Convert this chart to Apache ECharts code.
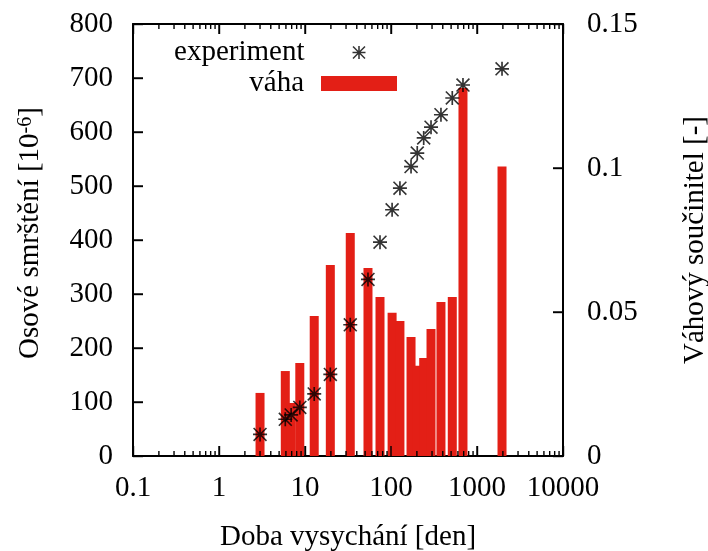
<!DOCTYPE html>
<html>
<head>
<meta charset="utf-8">
<script src="https://cdn.jsdelivr.net/npm/echarts@6/dist/echarts.min.js"></script>
<style>html,body{margin:0;padding:0;background:#fff}#c{width:708px;height:551px}</style>
</head>
<body>
<div id="c"></div>
<script>
// Drying time [days] (shared by points and bars)
const days = [3.0, 5.9, 6.9, 8.7, 12.8, 19.7, 33.6, 54, 74.5, 103, 127, 171, 202, 240, 292, 381, 516, 687, 1954];
// Axial shrinkage [1e-6]
const strain = [40, 68, 76, 90, 115, 151, 243, 327, 396, 456, 496, 536, 561, 589, 609, 632, 663, 687, 717];
// Weight factor [-]
const weights = [0.0219, 0.0295, 0.0184, 0.0323, 0.0486, 0.0663, 0.0774, 0.0653, 0.0552, 0.0497, 0.0469, 0.0413, 0.0313, 0.0340, 0.0441, 0.0535, 0.0552, 0.1278, 0.1005];

const xTickValues = [0.1, 1, 10, 100, 1000, 10000];
const xTickLabels = ['0.1', '1', '10', '100', '1000', '10000'];
const yTickValues = [0, 100, 200, 300, 400, 500, 600, 700, 800];
const yTickLabels = ['0', '100', '200', '300', '400', '500', '600', '700', '800'];
const y2TickValues = [0, 0.05, 0.1, 0.15];
const y2TickLabels = ['0', '0.05', '0.1', '0.15'];
const xMinorTicks = [0.2,0.3,0.4,0.5,0.6,0.7,0.8,0.9, 2,3,4,5,6,7,8,9, 20,30,40,50,60,70,80,90, 200,300,400,500,600,700,800,900, 2000,3000,4000,5000,6000,7000,8000,9000];

const FONT = "'Liberation Serif', 'Times New Roman', serif";
const RED = '#e31f16';
const FS = 29;
const STAR = 'path://M44 0L56 0L56 100L44 100Z M0 44L100 44L100 56L0 56Z M0 8L8 0L100 92L92 100Z M92 0L100 8L8 100L0 92Z';
const TICK_W = 1.4;

const chart = echarts.init(document.getElementById('c'), null, {renderer: 'canvas'});

function axisLine() { return {show: true, onZero: false, lineStyle: {color: '#000', width: 2}}; }
function tick() { return {show: true, inside: true, length: 10, lineStyle: {color: '#000', width: TICK_W}}; }
function lbl(extra) { return Object.assign({show: true, color: '#000', fontFamily: FONT, fontSize: FS}, extra); }
function seg(x1, y1, x2, y2) { return {type: 'line', shape: {x1: x1, y1: y1, x2: x2, y2: y2}, style: {stroke: '#000', lineWidth: TICK_W}}; }

// tick-mark series: marks at both frame edges, placed through the axis scales
function xTickSeries(name, values, len) {
  return {
    name: name, type: 'custom', xAxisIndex: 0, yAxisIndex: 0, z: 5, silent: true, clip: false,
    data: values.map(v => [v, 0]),
    renderItem: function (params, api) {
      const cs = params.coordSys;
      const x = api.coord([api.value(0), 0])[0];
      const yb = cs.y + cs.height, yt = cs.y;
      return {type: 'group', children: [seg(x, yb, x, yb - len), seg(x, yt, x, yt + len)]};
    }
  };
}
function yTickSeries(name, values, axisIdx, onLeft) {
  return {
    name: name, type: 'custom', xAxisIndex: 0, yAxisIndex: axisIdx, z: 5, silent: true, clip: false,
    data: values.map(v => [1, v]),
    renderItem: function (params, api) {
      const cs = params.coordSys;
      const y = api.coord([1, api.value(1)])[1];
      return onLeft ? seg(cs.x, y, cs.x + 10, y) : seg(cs.x + cs.width, y, cs.x + cs.width - 10, y);
    }
  };
}

chart.setOption({
  animation: false,
  backgroundColor: '#fff',
  grid: {left: 133, right: 145, top: 24, bottom: 95, containLabel: false, outerBoundsMode: 'none'},
  legend: [
    {
      data: [{name: 'experiment'}],
      orient: 'vertical', align: 'right', right: 342.5, top: 38, padding: 0,
      itemWidth: 13, itemHeight: 13, symbolKeepAspect: true,
      textStyle: {color: '#000', fontFamily: FONT, fontSize: FS, padding: [0, 43, 0, 0]},
      selectedMode: false
    },
    {
      data: [{name: 'váha', icon: 'rect'}],
      orient: 'vertical', align: 'right', right: 311, top: 69, padding: 0,
      itemWidth: 76, itemHeight: 15,
      textStyle: {color: '#000', fontFamily: FONT, fontSize: FS, padding: [0, 12, 0, 0]},
      selectedMode: false
    }
  ],
  xAxis: [
    {
      type: 'log', logBase: 10, min: 0.1, max: 10000, position: 'bottom',
      axisLine: axisLine(), axisTick: tick(), splitLine: {show: false},
      axisLabel: lbl({margin: 18, formatter: (v, i) => xTickLabels[i]}),
      name: 'Doba vysychání [den]', nameLocation: 'middle', nameGap: 67,
      nameTextStyle: {color: '#000', fontFamily: FONT, fontSize: FS}
    },
    {
      type: 'log', logBase: 10, min: 0.1, max: 10000, position: 'top',
      axisLine: axisLine(), axisTick: tick(), splitLine: {show: false},
      axisLabel: {show: false}
    }
  ],
  yAxis: [
    {
      type: 'value', min: 0, max: 800, interval: 100, position: 'left',
      axisLine: axisLine(), axisTick: tick(), splitLine: {show: false},
      axisLabel: lbl({margin: 20, formatter: (v, i) => yTickLabels[i]}),
      name: 'Osové smrštění [10{sup|-6}]', nameLocation: 'middle', nameRotate: 90, nameGap: 88,
      nameTextStyle: {color: '#000', fontFamily: FONT, fontSize: FS, padding: [0, 0, 0, 14],
        rich: {sup: {fontFamily: FONT, fontSize: 20, color: '#000', verticalAlign: 'top'}}}
    },
    {
      type: 'value', min: 0, max: 0.15, interval: 0.05, position: 'right',
      axisLine: axisLine(), axisTick: tick(), splitLine: {show: false},
      axisLabel: lbl({margin: 24, formatter: (v, i) => y2TickLabels[i]}),
      name: 'Váhový součinitel [-]', nameLocation: 'middle', nameRotate: 90, nameGap: 118,
      nameTextStyle: {color: '#000', fontFamily: FONT, fontSize: FS}
    }
  ],
  series: [
    {
      name: 'váha', type: 'custom', xAxisIndex: 0, yAxisIndex: 1, z: 2,
      itemStyle: {color: RED},
      data: days.map((d, i) => [d, weights[i]]),
      renderItem: function (params, api) {
        const base = api.coord([api.value(0), 0]);
        const top = api.coord([api.value(0), api.value(1)]);
        return {
          type: 'rect',
          shape: {x: base[0] - 4.5, y: top[1], width: 9, height: base[1] - top[1]},
          style: {fill: RED}
        };
      }
    },
    {
      name: 'experiment', type: 'scatter', xAxisIndex: 0, yAxisIndex: 0, z: 3,
      symbol: STAR, symbolSize: 14, symbolKeepAspect: true,
      itemStyle: {color: '#000'},
      data: days.map((d, i) => [d, strain[i]])
    },
    xTickSeries('xMinorTicks', xMinorTicks, 5),
    xTickSeries('xMajorTicks', xTickValues, 10),
    yTickSeries('yTicks', yTickValues, 0, true),
    yTickSeries('y2Ticks', y2TickValues, 1, false)
  ]
});
</script>
</body>
</html>
